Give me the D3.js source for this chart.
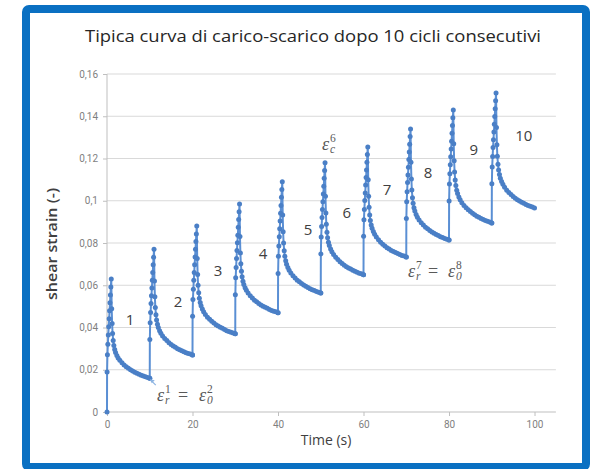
<!DOCTYPE html>
<html><head><meta charset="utf-8">
<script src="https://cdn.jsdelivr.net/npm/d3@7"></script>
<style>body{margin:0;background:#fff}</style>
</head><body>
<svg id="c" width="590" height="469"></svg>
<script>
const titleText = "Tipica curva di carico-scarico dopo 10 cicli consecutivi";
const xTicks = [0, 20, 40, 60, 80, 100];
const yTicks = [0, 0.02, 0.04, 0.06, 0.08, 0.1, 0.12, 0.14, 0.16];
const xTitle = "Time (s)";
const yTitle = "shear strain (-)";
const cycleStarts = [0, 10, 20, 30, 40, 50, 60, 70, 80, 90];
// seconds from cycle start: 12 loading samples then 24 unloading samples
const timeOffsets = [0, 0.02, 0.1, 0.2, 0.3, 0.4, 0.5, 0.6, 0.7, 0.8, 0.9, 1.0,
  1.1, 1.2, 1.3, 1.45, 1.6, 1.8, 2.0, 2.3, 2.6, 3.0, 3.5, 4.0, 4.5, 5.0, 5.5, 6.0, 6.5, 7.0, 7.5, 8.0, 8.5, 9.0, 9.5, 10.0];
const cycle1 = [0, 0.0189, 0.0271, 0.0321, 0.0365, 0.0403, 0.0441, 0.0479, 0.0517, 0.0554, 0.0592, 0.063,
  0.0489, 0.0419, 0.0372, 0.0339, 0.0315, 0.0296, 0.0282, 0.0268, 0.0256, 0.0245, 0.0233, 0.0223, 0.0214, 0.0207, 0.0200, 0.0194, 0.0188, 0.0184, 0.0179, 0.0174, 0.0170, 0.0167, 0.0163, 0.016];
const cycle2 = [0.016, 0.0343, 0.0422, 0.0471, 0.0514, 0.0550, 0.0587, 0.0624, 0.0660, 0.0697, 0.0733, 0.077,
  0.062, 0.0545, 0.0495, 0.046, 0.0435, 0.0415, 0.040, 0.0385, 0.0373, 0.036, 0.0348, 0.0338, 0.0328, 0.032, 0.0313, 0.0306, 0.030, 0.0295, 0.029, 0.0285, 0.0281, 0.0277, 0.0274, 0.027];
const cycle3 = [0.027, 0.0453, 0.0532, 0.0581, 0.0624, 0.0660, 0.0697, 0.0734, 0.0770, 0.0807, 0.0843, 0.088,
  0.0727, 0.0651, 0.060, 0.0564, 0.0538, 0.0518, 0.0503, 0.0487, 0.0475, 0.0462, 0.0449, 0.0439, 0.0429, 0.0421, 0.0413, 0.0407, 0.0401, 0.0396, 0.0390, 0.0385, 0.0381, 0.0377, 0.0374, 0.037];
const cycle4 = [0.037, 0.0555, 0.0635, 0.0684, 0.0727, 0.0764, 0.0801, 0.0837, 0.0874, 0.0911, 0.0948, 0.0985,
  0.0831, 0.0753, 0.0702, 0.0666, 0.064, 0.0619, 0.0604, 0.0588, 0.0576, 0.0563, 0.0550, 0.0540, 0.0529, 0.0522, 0.0514, 0.0507, 0.0501, 0.0496, 0.0491, 0.0485, 0.0481, 0.0477, 0.0474, 0.047];
const cycle5 = [0.047, 0.0656, 0.0737, 0.0786, 0.0830, 0.0867, 0.0904, 0.0941, 0.0978, 0.1016, 0.1053, 0.109,
  0.0932, 0.0853, 0.080, 0.0763, 0.0737, 0.0716, 0.0700, 0.0684, 0.0671, 0.0658, 0.0645, 0.0634, 0.0624, 0.0616, 0.0608, 0.0601, 0.0595, 0.0589, 0.0584, 0.0579, 0.0575, 0.0570, 0.0567, 0.0563];
const cycle6 = [0.0563, 0.0748, 0.0828, 0.0878, 0.0921, 0.0958, 0.0995, 0.1032, 0.1069, 0.1106, 0.1143, 0.118,
  0.1021, 0.0942, 0.0889, 0.0851, 0.0825, 0.0804, 0.0788, 0.0772, 0.0759, 0.0745, 0.0732, 0.0722, 0.0711, 0.0703, 0.0695, 0.0688, 0.0682, 0.0677, 0.0671, 0.0666, 0.0662, 0.0657, 0.0654, 0.065];
const cycle7 = [0.065, 0.0832, 0.091, 0.0959, 0.1001, 0.1037, 0.1074, 0.111, 0.1146, 0.1182, 0.1219, 0.1255,
  0.1099, 0.1021, 0.0969, 0.0932, 0.0906, 0.0885, 0.0870, 0.0854, 0.0841, 0.0828, 0.0815, 0.0804, 0.0794, 0.0786, 0.0778, 0.0772, 0.0765, 0.0760, 0.0755, 0.0750, 0.0746, 0.0741, 0.0738, 0.0734];
const cycle8 = [0.0734, 0.0916, 0.0995, 0.1043, 0.1086, 0.1122, 0.1158, 0.1195, 0.1231, 0.1267, 0.1304, 0.134,
  0.1182, 0.1103, 0.1051, 0.1014, 0.0988, 0.0967, 0.0951, 0.0935, 0.0922, 0.0909, 0.0896, 0.0885, 0.0875, 0.0867, 0.0859, 0.0852, 0.0846, 0.0840, 0.0835, 0.0830, 0.0826, 0.0821, 0.0818, 0.0814];
const cycle9 = [0.0814, 0.0999, 0.1079, 0.1128, 0.1171, 0.1208, 0.1245, 0.1282, 0.1319, 0.1356, 0.1393, 0.143,
  0.127, 0.1189, 0.1136, 0.1098, 0.1072, 0.1050, 0.1034, 0.1018, 0.1005, 0.0991, 0.0978, 0.0967, 0.0957, 0.0949, 0.0941, 0.0934, 0.0927, 0.0922, 0.0916, 0.0911, 0.0907, 0.0903, 0.0899, 0.0895];
const cycle10 = [0.0895, 0.108, 0.116, 0.1209, 0.1252, 0.1289, 0.1326, 0.1362, 0.1399, 0.1436, 0.1473, 0.151,
  0.1347, 0.1265, 0.1211, 0.1173, 0.1146, 0.1124, 0.1107, 0.1091, 0.1078, 0.1064, 0.1050, 0.1039, 0.1029, 0.1020, 0.1012, 0.1005, 0.0999, 0.0993, 0.0988, 0.0982, 0.0978, 0.0974, 0.0970, 0.0966];
const cycles = [cycle1, cycle2, cycle3, cycle4, cycle5, cycle6, cycle7, cycle8, cycle9, cycle10];
// cycle number labels: text, time anchor, strain anchor
const cycleLabels = ["1", "2", "3", "4", "5", "6", "7", "8", "9", "10"];
const cycleLabelT = [5.4, 16.6, 26.0, 36.5, 47.0, 56.1, 65.5, 75.1, 85.8, 97.5];
const cycleLabelV = [0.0436, 0.0521, 0.0667, 0.0748, 0.0862, 0.0942, 0.1051, 0.1131, 0.124, 0.1307];

const svg = d3.select("#c");
const W = 590, H = 469;
svg.append("rect").attr("width", W).attr("height", H).attr("fill", "#fff");
svg.append("rect").attr("x", 26).attr("y", 9).attr("width", 560).attr("height", 458)
  .attr("rx", 3).attr("fill", "#fff").attr("stroke", "#0a70c2").attr("stroke-width", 8);

const x = d3.scaleLinear().domain([0, 105]).range([107, 555.9]);
const y = d3.scaleLinear().domain([0, 0.16]).range([412, 74]);
const fmt = d => String(d).replace(".", ",");

svg.append("text").attr("x", 313).attr("y", 42).attr("text-anchor", "middle")
  .attr("font-family", "Open Sans, sans-serif").attr("font-size", 16.5).attr("fill", "#262626")
  .attr("textLength", 456).attr("lengthAdjust", "spacingAndGlyphs")
  .text(titleText);

// gridlines
svg.append("g").selectAll("line").data(yTicks.filter(d => d > 0)).join("line")
  .attr("x1", x(0)).attr("x2", x(105)).attr("y1", d => y(d)).attr("y2", d => y(d))
  .attr("stroke", "#d9d9d9").attr("stroke-width", 1);

const yAxis = svg.append("g").attr("transform", `translate(${x(0)},0)`)
  .call(d3.axisLeft(y).tickValues(yTicks).tickFormat(fmt).tickSize(4).tickPadding(5));
const xAxis = svg.append("g").attr("transform", `translate(0,${y(0)})`)
  .call(d3.axisBottom(x).tickValues(xTicks).tickFormat(fmt).tickSize(4).tickPadding(5));
[yAxis, xAxis].forEach(a => {
  a.select(".domain").attr("stroke", "#bfbfbf");
  a.selectAll(".tick line").attr("stroke", "#bfbfbf");
  a.selectAll("text").attr("font-family", "Roboto, sans-serif").attr("font-size", 10).attr("fill", "#7f7f7f");
});
xAxis.select(".domain").attr("d", `M${x(0)},0H${x(105)}`);
yAxis.select(".domain").attr("d", `M0,${y(0)}V${y(0.16)}`);

svg.append("text").attr("x", 326).attr("y", 445).attr("text-anchor", "middle")
  .attr("font-family", "Open Sans, sans-serif").attr("font-size", 14).attr("fill", "#404040").text(xTitle);
svg.append("text").attr("transform", "translate(57,244) rotate(-90)").attr("text-anchor", "middle")
  .attr("font-family", "Open Sans, sans-serif").attr("font-size", 14).attr("font-weight", 600)
  .attr("textLength", 112).attr("lengthAdjust", "spacingAndGlyphs")
  .attr("fill", "#404040").text(yTitle);

// series
const pts = [];
cycles.forEach((c, i) => c.forEach((v, k) => pts.push([cycleStarts[i] + timeOffsets[k], v])));
const line = d3.line().x(d => x(d[0])).y(d => y(d[1]));
svg.append("path").datum(pts).attr("d", line).attr("fill", "none")
  .attr("stroke", "#5a8fd4").attr("stroke-width", 2);
svg.append("g").selectAll("circle").data(pts).join("circle")
  .attr("cx", d => x(d[0])).attr("cy", d => y(d[1])).attr("r", 2.5).attr("fill", "#4a7fc6");

svg.append("g").selectAll("text").data(cycleLabels).join("text")
  .attr("x", (d, i) => x(cycleLabelT[i])).attr("y", (d, i) => y(cycleLabelV[i])).attr("dy", "0.35em")
  .attr("text-anchor", "middle").attr("font-family", "Open Sans, sans-serif").attr("font-size", 15)
  .attr("fill", "#404040").text(d => d);

// math annotations
function eps(g, x0, yb, sub, sup) {
  g.append("text").attr("x", x0).attr("y", yb).attr("font-family", "Liberation Serif, serif")
    .attr("font-style", "italic").attr("font-size", 18).attr("fill", "#595959").text("ε");
  g.append("text").attr("x", x0 + 8).attr("y", yb - 8).attr("font-family", "Liberation Serif, serif")
    .attr("font-size", 11.5).attr("fill", "#595959").text(sup);
  g.append("text").attr("x", x0 + 8).attr("y", yb + 3).attr("font-family", "Liberation Serif, serif")
    .attr("font-style", "italic").attr("font-size", 11.5).attr("fill", "#595959").text(sub);
}
function eq(g, x0, yb) {
  g.append("text").attr("x", x0).attr("y", yb).attr("font-family", "Liberation Serif, serif")
    .attr("font-size", 18).attr("fill", "#595959").text("=");
}
const ann = svg.append("g");
eps(ann, 157, 401, "r", "1"); eq(ann, 178, 401); eps(ann, 199, 401, "0", "2");
eps(ann, 322, 150, "c", "6");
eps(ann, 408, 277, "r", "7"); eq(ann, 428, 277); eps(ann, 448, 277, "0", "8");
// small arrow toward end of cycle 1
ann.append("path").attr("d", `M${x(10) + 6},${y(0.016) + 7} L${x(10) + 1},${y(0.016) + 2}`)
  .attr("stroke", "#8db4e2").attr("stroke-width", 1.2);
ann.append("path").attr("d", `M${x(10)},${y(0.016) + 1} l5,1 l-3,3 z`).attr("fill", "#8db4e2");
</script>
</body></html>
